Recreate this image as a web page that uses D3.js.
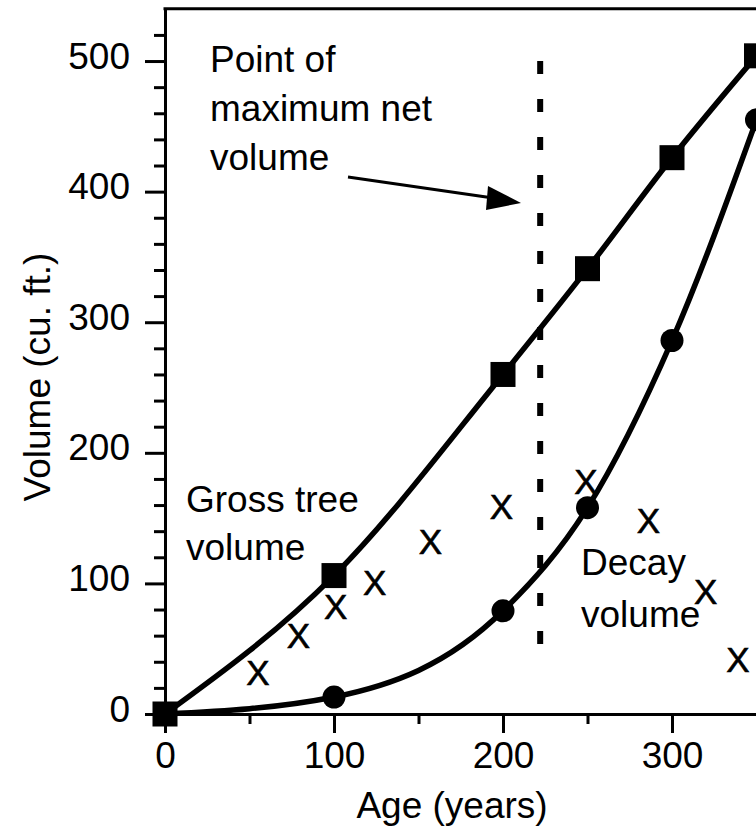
<!DOCTYPE html>
<html>
<head>
<meta charset="utf-8">
<script src="https://cdn.jsdelivr.net/npm/d3@7"></script>
<style>
  html, body { margin: 0; padding: 0; background: #fff; }
  svg { display: block; }
  text { font-family: "Liberation Sans", Arial, sans-serif; fill: #000; }
</style>
</head>
<body>
<svg id="chart" width="756" height="829"></svg>
<script>
// ---- Data ----
const ages = [0, 100, 200, 250, 300, 350];
const grossVolume = [0, 106, 260, 341, 426, 504];
const decayVolume = [0, 13, 79, 158, 286, 455];
const netAges = [55, 79, 101, 124, 157, 199, 249, 286, 320, 339];
const netVolume = [32, 60, 82, 101, 132, 159, 178, 148, 94, 42];
const xMajorTicks = [0, 100, 200, 300];
const xMinorTicks = [50, 150, 250];
const yMajorTicks = [0, 100, 200, 300, 400, 500];
const yMinorTicks = [20, 40, 60, 80, 120, 140, 160, 180, 220, 240, 260, 280, 320, 340, 360, 380, 420, 440, 460, 480, 520];
const maxNetAge = 222;
const maxNetSpan = [50, 500];
const xTitle = "Age (years)";
const yTitle = "Volume (cu. ft.)";
const topLabel = ["Point of", "maximum net", "volume"];
const grossLabel = ["Gross tree", "volume"];
const decayLabel = ["Decay", "volume"];

// ---- Scales ----
const svg = d3.select("#chart");
const x = d3.scaleLinear().domain([0, 350]).range([165, 756.5]);
const y = d3.scaleLinear().domain([0, 540]).range([714, 8.8]);
const FS = 37;

// ---- Axes ----
const yAxisMinor = d3.axisLeft(y).tickValues(yMinorTicks).tickSize(11).tickSizeOuter(0).tickFormat("");
const yAxis = d3.axisLeft(y).tickValues(yMajorTicks).tickSize(20).tickSizeOuter(0).tickPadding(15);
const xAxisMinor = d3.axisBottom(x).tickValues(xMinorTicks).tickSize(10).tickSizeOuter(0).tickFormat("");
const xAxis = d3.axisBottom(x).tickValues(xMajorTicks).tickSize(19).tickSizeOuter(0).tickPadding(9);

function styleAxis(g) {
  g.selectAll("path.domain").attr("stroke", "#000").attr("stroke-width", 3);
  g.selectAll(".tick line").attr("stroke", "#000").attr("stroke-width", 3);
  g.selectAll(".tick text").attr("font-size", FS).attr("font-family", "Liberation Sans, Arial, sans-serif").attr("fill", "#000");
}

const gyMin = svg.append("g").attr("transform", `translate(${x(0)},0)`).call(yAxisMinor);
styleAxis(gyMin);
const gy = svg.append("g").attr("transform", `translate(${x(0)},0)`).call(yAxis);
styleAxis(gy);
gy.selectAll(".tick text").attr("dy", "0.19em");

const gxMin = svg.append("g").attr("transform", `translate(0,${y(0)})`).call(xAxisMinor);
styleAxis(gxMin);
const gx = svg.append("g").attr("transform", `translate(0,${y(0)})`).call(xAxis);
styleAxis(gx);

// top border
svg.append("line")
  .attr("x1", x(0) - 1.5).attr("x2", x(350))
  .attr("y1", y(540)).attr("y2", y(540))
  .attr("stroke", "#000").attr("stroke-width", 3);

// ---- Axis titles ----
svg.append("text")
  .attr("x", 452).attr("y", 818)
  .attr("text-anchor", "middle").attr("font-size", FS)
  .text(xTitle);

svg.append("text")
  .attr("transform", "translate(50,377) rotate(-90)")
  .attr("text-anchor", "middle").attr("font-size", FS)
  .text(yTitle);

// ---- Max net volume dashed line ----
svg.append("line")
  .attr("x1", x(maxNetAge)).attr("x2", x(maxNetAge))
  .attr("y1", y(maxNetSpan[1])).attr("y2", y(maxNetSpan[0]))
  .attr("stroke", "#000").attr("stroke-width", 6)
  .attr("stroke-dasharray", "13 25");

// ---- Lines ----
const lineGen = d3.line().x(d => x(d[0])).y(d => y(d[1])).curve(d3.curveMonotoneX);
const grossPts = ages.map((a, i) => [a, grossVolume[i]]);
const decayPts = ages.map((a, i) => [a, decayVolume[i]]);

svg.append("path").attr("d", lineGen(grossPts))
  .attr("fill", "none").attr("stroke", "#000").attr("stroke-width", 5.5);
svg.append("path").attr("d", lineGen(decayPts))
  .attr("fill", "none").attr("stroke", "#000").attr("stroke-width", 5.5);

// ---- Markers ----
svg.selectAll("circle.decay").data(decayPts).join("circle")
  .attr("class", "decay")
  .attr("cx", d => x(d[0])).attr("cy", d => y(d[1]))
  .attr("r", 11.5).attr("fill", "#000");

const S = 25;
svg.selectAll("rect.gross").data(grossPts).join("rect")
  .attr("class", "gross")
  .attr("x", d => x(d[0]) - S / 2).attr("y", d => y(d[1]) - S / 2)
  .attr("width", S).attr("height", S).attr("fill", "#000");

// ---- Net volume X marks ----
svg.selectAll("text.net").data(netAges.map((a, i) => [a, netVolume[i]])).join("text")
  .attr("class", "net")
  .attr("x", d => x(d[0])).attr("y", d => y(d[1]) + 12.5)
  .attr("text-anchor", "middle").attr("font-size", 35)
  .attr("stroke", "#000").attr("stroke-width", 0.6)
  .text("X");

// ---- Annotations ----
function multiline(lines, x0, y0, dy) {
  const t = svg.append("text").attr("font-size", FS);
  lines.forEach((s, i) => t.append("tspan").attr("x", x0).attr("y", y0 + i * dy).text(s));
}
multiline(topLabel, 210, 72, 49);
multiline(grossLabel, 186, 512, 48);
multiline(decayLabel, 581, 575, 52);

// arrow
svg.append("line")
  .attr("x1", 348).attr("y1", 177).attr("x2", 500).attr("y2", 199)
  .attr("stroke", "#000").attr("stroke-width", 3);
svg.append("path")
  .attr("d", "M521,203 L488,186 L486,210 Z")
  .attr("fill", "#000");
</script>
</body>
</html>
